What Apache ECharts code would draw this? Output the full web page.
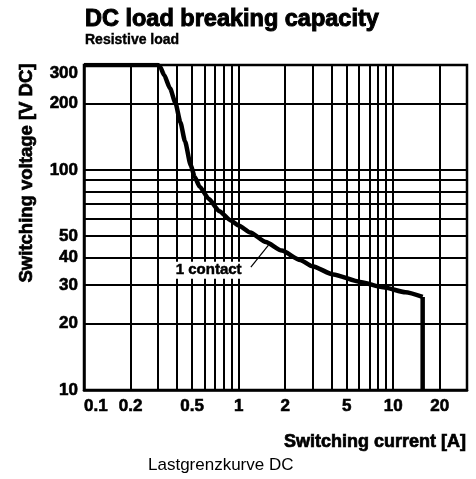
<!DOCTYPE html>
<html>
<head>
<meta charset="utf-8">
<script src="https://cdn.jsdelivr.net/npm/echarts@6/dist/echarts.min.js"></script>
<style>html,body{margin:0;padding:0;background:#fff;}#c{width:476px;height:479px;}</style>
</head>
<body>
<div id="c"></div>
<script>
// ---- data ----
const curveX = [0.1, 0.3, 0.31, 0.33, 0.36, 0.39, 0.42, 0.45, 0.49, 0.52, 0.56, 0.64, 0.75, 0.89, 1.0, 1.19, 1.5, 1.9, 2.5, 3.0, 4.1, 6.1, 8.6, 12, 15.5];
const curveY = [300, 300, 295, 270, 235, 202, 165, 135, 105, 93, 84, 74, 65, 59, 56, 52, 47, 43, 39, 36.5, 33.5, 31, 29.3, 27.8, 26.5];
const dropX = [15.5, 15.5];
const dropY = [26.5, 10];
const xGrid = [0.2, 0.3, 0.4, 0.5, 0.6, 0.7, 0.8, 0.9, 1, 2, 3, 4, 5, 6, 7, 8, 9, 10, 20];
const yGrid = [20, 30, 40, 50, 60, 70, 80, 90, 100, 200];
const xTicks = [0.1, 0.2, 0.5, 1, 2, 5, 10, 20];
const yTicks = [10, 20, 30, 40, 50, 100, 200, 300];
const labelPoint = [0.64, 35];
const leaderX = [1.2, 1.56];
const leaderY = [36.2, 45.6];

const FONT = '"Liberation Sans", Arial, sans-serif';
const chart = echarts.init(document.getElementById('c'));
const boldLabel = {fontFamily: FONT, fontWeight: 'bold', color: '#000', textBorderColor: '#000', textBorderWidth: 0.6};
chart.setOption({
  animation: false,
  backgroundColor: '#fff',
  title: {
    text: 'DC load breaking capacity',
    subtext: 'Resistive load',
    left: 85, top: 8, itemGap: 0, padding: 0,
    textStyle: Object.assign({}, boldLabel, {fontSize: 23.5, textBorderWidth: 1}),
    subtextStyle: Object.assign({}, boldLabel, {fontSize: 14, textBorderWidth: 0.4})
  },
  grid: {left: 84, right: 9, top: 65, bottom: 89, show: true, borderColor: '#000', borderWidth: 2.5, containLabel: false},
  xAxis: {
    type: 'log', logBase: 10, min: 0.1, max: 30,
    axisLine: {show: true, lineStyle: {color: '#000', width: 2.5}},
    axisTick: {show: false},
    splitLine: {show: false},
    axisLabel: Object.assign({
      customValues: xTicks, margin: 8, alignMinLabel: 'left', fontSize: 17,
      formatter: v => String(+(+v).toPrecision(3))
    }, boldLabel)
  },
  yAxis: {
    type: 'log', logBase: 10, min: 10, max: 300,
    axisLine: {show: true, lineStyle: {color: '#000', width: 2.5}},
    axisTick: {show: false},
    splitLine: {show: false},
    axisLabel: Object.assign({
      customValues: yTicks, margin: 6, fontSize: 17, verticalAlignMaxLabel: 'top',
      formatter: v => String(Math.round(v))
    }, boldLabel)
  },
  graphic: [
    {type: 'text', x: 27, y: 173, rotation: Math.PI / 2,
     style: {text: 'Switching voltage [V DC]', fill: '#000', stroke: '#000', lineWidth: 0.7, font: 'bold 18.5px ' + FONT, align: 'center', verticalAlign: 'middle'}},
    {type: 'text', x: 466, y: 442,
     style: {text: 'Switching current [A]', fill: '#000', stroke: '#000', lineWidth: 0.7, font: 'bold 18px ' + FONT, align: 'right', verticalAlign: 'middle'}},
    {type: 'text', x: 148, y: 465,
     style: {text: 'Lastgrenzkurve DC', fill: '#000', font: '17px ' + FONT, align: 'left', verticalAlign: 'middle'}}
  ],
  series: [
    {
      type: 'line', name: 'grid', data: [], silent: true, z: 1,
      markLine: {
        silent: true, symbol: ['none', 'none'], animation: false,
        label: {show: false},
        lineStyle: {color: '#000', width: 2, type: 'solid'},
        emphasis: {disabled: true},
        data: xGrid.map(v => ({xAxis: v})).concat(yGrid.map(v => ({yAxis: v})))
      }
    },
    {
      type: 'line', name: '1 contact', z: 3,
      data: curveX.map((x, i) => [x, curveY[i]]),
      symbol: 'none', smooth: 0.2, smoothMonotone: 'x',
      lineStyle: {color: '#000', width: 4.5, join: 'round'}
    },
    {
      type: 'line', name: '1 contact drop', z: 3,
      data: dropX.map((x, i) => [x, dropY[i]]),
      symbol: 'none',
      lineStyle: {color: '#000', width: 4.5, join: 'round'}
    },
    {
      type: 'line', name: 'leader', z: 3,
      data: leaderX.map((x, i) => [x, leaderY[i]]),
      symbol: 'none', lineStyle: {color: '#000', width: 1.2}
    },
    {
      type: 'scatter', name: 'label', z: 10, silent: true,
      data: [labelPoint], symbolSize: 0,
      itemStyle: {opacity: 1, color: '#000'},
      label: Object.assign({show: true, position: 'inside', formatter: '1 contact', backgroundColor: '#fff', padding: [1, 2], fontSize: 15},
                           boldLabel, {textBorderWidth: 0.5})
    }
  ]
});
</script>
</body>
</html>
